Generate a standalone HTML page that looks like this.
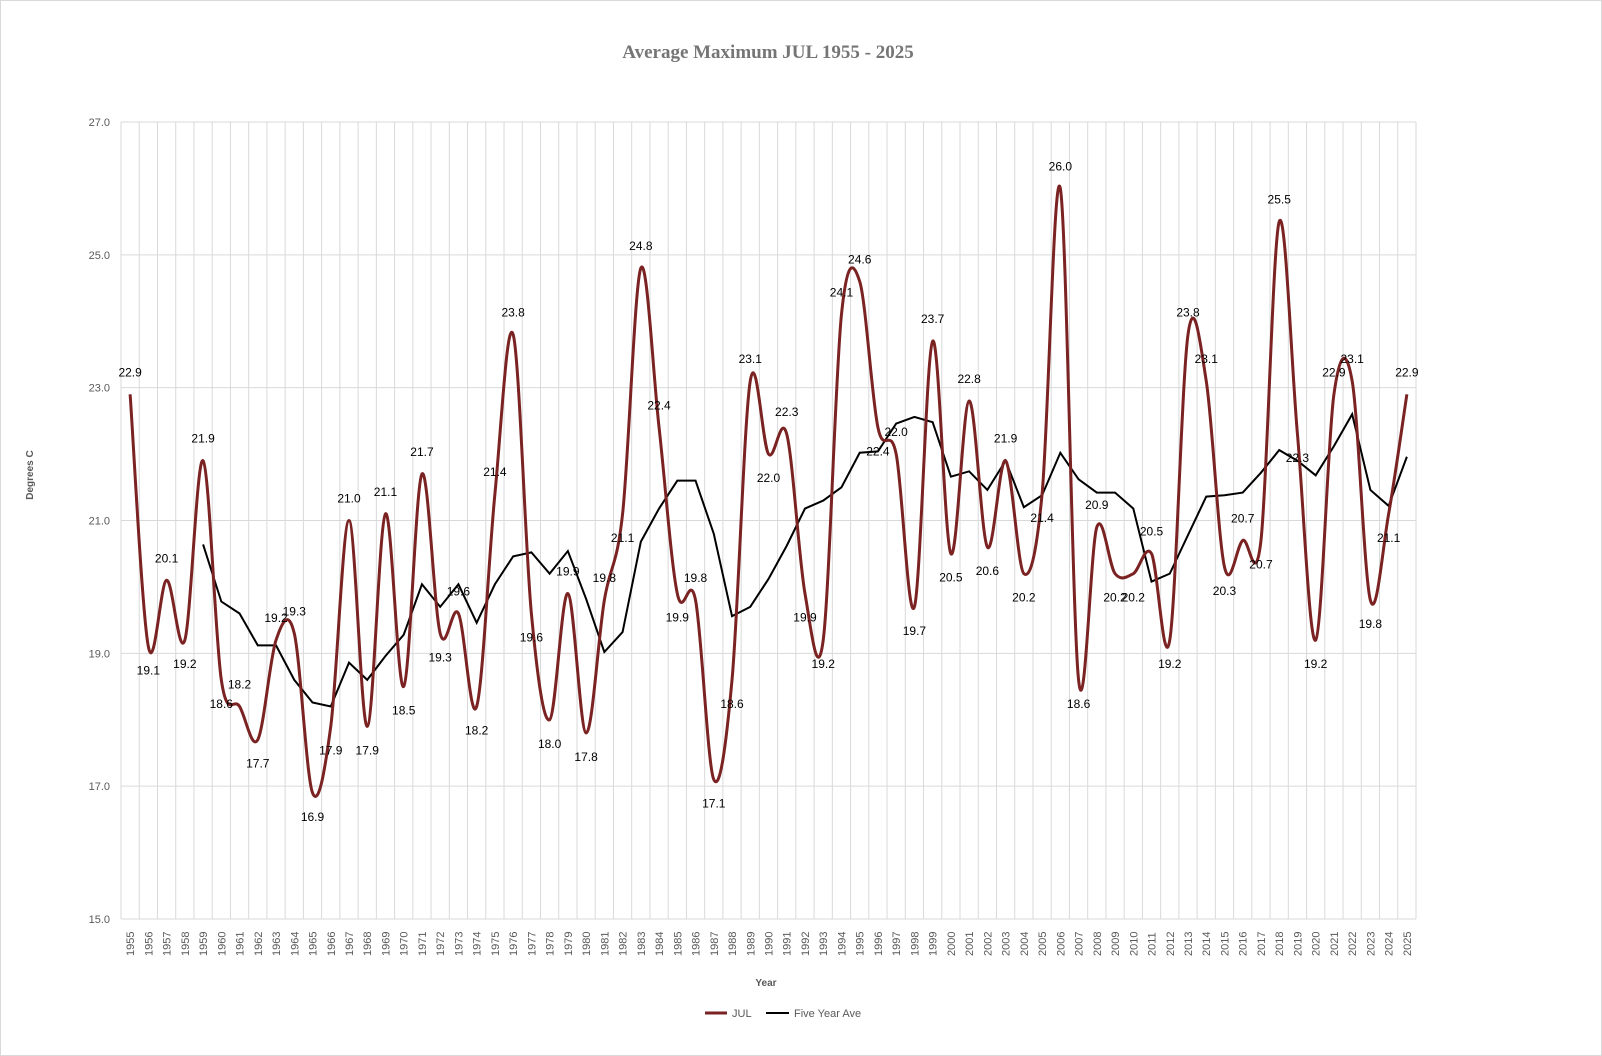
<!DOCTYPE html>
<html><head><meta charset="utf-8"><style>
html,body{margin:0;padding:0;background:#fff}
svg{display:block;font-family:"Liberation Sans",sans-serif}
</style></head><body>
<svg id="s" width="1602" height="1056" xmlns="http://www.w3.org/2000/svg"></svg>
<script>
const v=[22.9,19.1,20.1,19.2,21.9,18.6,18.2,17.7,19.2,19.3,16.9,17.9,21.0,17.9,21.1,18.5,21.7,19.3,19.6,18.2,21.4,23.8,19.6,18.0,19.9,17.8,19.8,21.1,24.8,22.4,19.9,19.8,17.1,18.6,23.1,22.0,22.3,19.9,19.2,24.1,24.6,22.4,22.0,19.7,23.7,20.5,22.8,20.6,21.9,20.2,21.4,26.0,18.6,20.9,20.2,20.2,20.5,19.2,23.8,23.1,20.3,20.7,20.7,25.5,22.3,19.2,22.9,23.1,19.8,21.1,22.9];
const L=121,R=1416,T=122,B=919,n=71,cw=(R-L)/n;
const X=i=>L+cw*(i+0.5),Y=t=>B-(t-15)*(B-T)/12;
let s='';
s+='<rect x="0.5" y="0.5" width="1601" height="1055" fill="#fff" stroke="#d9d9d9"/>';
for(let k=0;k<=6;k++){const y=Y(15+2*k);s+=`<line x1="${L}" x2="${R}" y1="${y}" y2="${y}" stroke="#d9d9d9"/>`;
s+=`<text x="110" y="${y+4}" text-anchor="end" font-size="11" fill="#595959">${(15+2*k).toFixed(1)}</text>`;}
for(let i=0;i<=n;i++){const x=L+cw*i;s+=`<line x1="${x}" x2="${x}" y1="${T}" y2="${B}" stroke="#d9d9d9"/>`;}
for(let i=0;i<n;i++){const x=X(i);s+=`<text transform="translate(${x+4},${956}) rotate(-90)" font-size="11" fill="#595959">${1955+i}</text>`;}
// smooth path
function sm(pts){let d=`M${pts[0][0]},${pts[0][1]}`;for(let i=0;i<pts.length-1;i++){const p0=pts[i-1]||pts[i],p1=pts[i],p2=pts[i+1],p3=pts[i+2]||p2;
const c1=[p1[0]+(p2[0]-p0[0])/6,p1[1]+(p2[1]-p0[1])/6],c2=[p2[0]-(p3[0]-p1[0])/6,p2[1]-(p3[1]-p1[1])/6];d+=`C${c1},${c2},${p2}`;}return d;}
const pts=v.map((t,i)=>[X(i),Y(t)]);
let f=[];for(let i=4;i<n;i++){let a=0;for(let j=i-4;j<=i;j++)a+=v[j];f.push(`${X(i)},${Y(a/5)}`);}
s+=`<polyline points="${f.join(' ')}" fill="none" stroke="#000" stroke-width="2"/>`;
s+=`<path d="${sm(pts)}" fill="none" stroke="#7b2323" stroke-width="3"/>`;
for(let i=0;i<n;i++){const p=v[i-1]??v[i+1],q=v[i+1]??v[i-1];const up=v[i]>=(p+q)/2;
const y=up?Y(v[i])-18:Y(v[i])+28;s+=`<text x="${X(i)}" y="${y}" text-anchor="middle" font-size="12" fill="#000">${v[i].toFixed(1)}</text>`;}
s+=`<text x="768" y="58" text-anchor="middle" font-size="19" font-weight="bold" fill="#757575" font-family="Liberation Serif,serif">Average Maximum JUL 1955 - 2025</text>`;
s+=`<text transform="translate(33,475) rotate(-90)" text-anchor="middle" font-size="10" font-weight="bold" fill="#595959">Degrees C</text>`;
s+=`<text x="766" y="986" text-anchor="middle" font-size="10" font-weight="bold" fill="#595959">Year</text>`;
s+=`<line x1="705" x2="727" y1="1013" y2="1013" stroke="#7b2323" stroke-width="3"/><text x="732" y="1017" font-size="11" fill="#595959">JUL</text>`;
s+=`<line x1="766" x2="789" y1="1013" y2="1013" stroke="#000" stroke-width="2"/><text x="794" y="1017" font-size="11" fill="#595959">Five Year Ave</text>`;
document.getElementById('s').innerHTML=s;
</script>
</body></html>
